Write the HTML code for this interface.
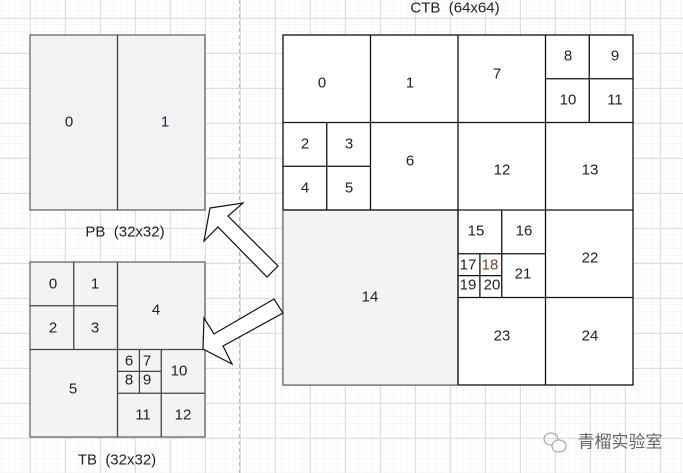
<!DOCTYPE html>
<html><head><meta charset="utf-8"><style>
html,body{margin:0;padding:0;width:683px;height:473px;overflow:hidden;background:#fff}
svg{display:block}
text{font-family:"Liberation Sans","Noto Sans CJK SC",sans-serif;font-size:15px;fill:#222;text-anchor:middle;dominant-baseline:central;white-space:pre}
</style></head><body>
<svg width="683" height="473" viewBox="0 0 683 473">
<defs>
<pattern id="minor" x="2" y="4" width="7" height="7" patternUnits="userSpaceOnUse">
<path d="M7 0V7M0 7H7" stroke="#f0f0f0" stroke-width="1" fill="none"/></pattern>
<pattern id="major" x="30" y="18" width="35" height="35" patternUnits="userSpaceOnUse">
<path d="M0.5 0V35M0 0.5H35" stroke="#dedede" stroke-width="1" fill="none"/></pattern>
</defs>
<rect width="683" height="473" fill="url(#minor)"/>
<rect width="683" height="473" fill="url(#major)"/>
<line x1="239.5" y1="0" x2="239.5" y2="473" stroke="#bbb" stroke-dasharray="4,3"/>

<g stroke="#444" stroke-width="1.3">
<rect x="30" y="35" width="175" height="175" fill="#f3f3f3" stroke="#666"/>
<line x1="117.5" y1="35" x2="117.5" y2="210"/>
<rect x="30" y="262" width="175" height="175" fill="#f3f3f3" stroke="#666"/>
<path d="M117.5 262V437M30 349.5H205M73.75 262V349.5M30 305.75H117.5M161.25 349.5V437M117.5 393.25H205M139.4 349.5V393.25M117.5 371.4H161.25" fill="none"/>
<rect x="283" y="35" width="350" height="350" fill="#fff" stroke="#111"/>
<rect x="283" y="210" width="175" height="175" fill="#f3f3f3" stroke="#777"/>
<path stroke="#111" fill="none" d="M458 35V385M283 210H633M370.5 35V210M283 122.5H633M545.5 35V385M458 297.5H633
M326.75 122.5V210M283 166.25H370.5
M589.25 35V122.5M545.5 78.75H633
M501.75 210V297.5M458 253.75H545.5
M479.9 253.75V297.5M458 275.6H501.75"/>
</g>
<g fill="#fff" stroke="#111" stroke-width="1.2">
<polygon points="210,208 243,203 228,216 278,266 267,277 218,227 204,241"/>
<polygon points="203,349 204,318 214,334 274,299 283,313 223,346 232,364"/>
</g>

<text x="69" y="122">0</text><text x="165" y="122" style="fill:#124">1</text>
<text x="125" y="232">PB  (32x32)</text>
<text x="117" y="460">TB  (32x32)</text>
<text x="455" y="8">CTB  (64x64)</text>

<text x="53" y="284">0</text><text x="95" y="284">1</text>
<text x="53" y="328">2</text><text x="95" y="328">3</text>
<text x="156" y="310">4</text>
<text x="73" y="389">5</text>
<text x="129" y="361">6</text><text x="147" y="361">7</text>
<text x="129" y="380">8</text><text x="147" y="380">9</text>
<text x="179" y="371">10</text>
<text x="143" y="415">11</text><text x="183" y="415">12</text>

<text x="322" y="83">0</text><text x="410" y="83">1</text>
<text x="305" y="144">2</text><text x="349" y="144">3</text>
<text x="305" y="188">4</text><text x="349" y="188">5</text>
<text x="410" y="161">6</text>
<text x="497" y="74">7</text>
<text x="568" y="56">8</text><text x="615" y="56">9</text>
<text x="568" y="100">10</text><text x="615" y="100">11</text>
<text x="502" y="170">12</text><text x="590" y="170">13</text>
<text x="370" y="297">14</text>
<text x="476" y="231">15</text><text x="524" y="231">16</text>
<text x="468" y="265">17</text><text x="490" y="265" style="fill:#742">18</text>
<text x="468" y="285">19</text><text x="492" y="285">20</text>
<text x="523" y="274">21</text>
<text x="590" y="258">22</text>
<text x="502" y="336">23</text><text x="590" y="336">24</text>

<g fill="none" stroke="#999" stroke-width="1">
<ellipse cx="551" cy="439" rx="7" ry="6"/><ellipse cx="559" cy="446" rx="7" ry="6" fill="#fff"/>
</g>
<text x="620" y="442" style="fill:#666;font-size:17px">青榴实验室</text>
</svg>
</body></html>
